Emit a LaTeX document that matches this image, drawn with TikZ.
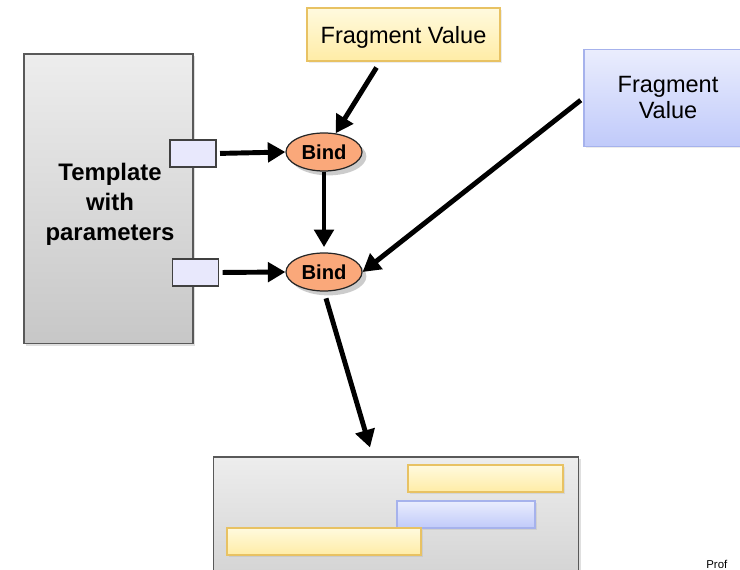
\documentclass[tikz,border=0pt]{standalone}
\usepackage{fontspec}
\setmainfont{Liberation Sans}
\usetikzlibrary{arrows.meta,shadows,shapes.geometric}
\definecolor{bindfill}{RGB}{250,168,122}
\definecolor{yeltop}{RGB}{255,250,222}
\definecolor{yelbot}{RGB}{255,236,166}
\definecolor{yeledge}{RGB}{232,194,99}
\definecolor{bluetop}{RGB}{234,237,253}
\definecolor{bluebot}{RGB}{192,202,250}
\definecolor{blueedge}{RGB}{166,178,236}
\definecolor{portfill}{RGB}{232,232,252}

\begin{document}
\begin{tikzpicture}[x=0.02cm,y=-0.02cm,
	graybox/.style={draw=black!65,line width=0.6pt,top color=black!7,bottom color=black!22,
		drop shadow={opacity=0.25,shadow xshift=1pt,shadow yshift=-1pt}},
	yelbox/.style={draw=yeledge,line width=0.6pt,top color=yeltop,bottom color=yelbot,
		drop shadow={opacity=0.15,shadow xshift=1pt,shadow yshift=-1pt}},
	bluebox/.style={draw=blueedge,line width=0.6pt,top color=bluetop,bottom color=bluebot,
		drop shadow={opacity=0.15,shadow xshift=1pt,shadow yshift=-1pt}},
	portbox/.style={draw=black!75,line width=0.6pt,fill=portfill,minimum width=0.92cm,minimum height=0.54cm,inner sep=0},
	bindnode/.style={ellipse,draw=black!85,line width=0.7pt,fill=bindfill,minimum width=1.52cm,minimum height=0.76cm,inner sep=0,
		font=\fontsize{11.5}{13}\selectfont\bfseries,
		drop shadow={opacity=0.4,shadow xshift=2.5pt,shadow yshift=-2.5pt}},
	bar/.style={minimum height=0.54cm,inner sep=0},
	arr/.style={line width=2.8pt,-{Triangle[length=10pt,width=11pt]}}]
	\useasboundingbox (0,0) rectangle (740,570);
	\clip (0,0) rectangle (740,570);

	\node[graybox,minimum width=3.38cm,minimum height=5.8cm] (tmpl) at (108.5,199) {};
	\node[align=center,font=\fontsize{13.6}{17}\selectfont\bfseries] (tmpltext) at (110,204) {Template\\with\\parameters};
	\node[portbox] (port1) at (193,153.5) {};
	\node[portbox] (port2) at (195.5,272.5) {};

	\node[yelbox,minimum width=3.86cm,minimum height=1.06cm,text depth=0pt,font=\fontsize{13.4}{16}\selectfont] (frag1) at (403.5,34.5) {Fragment Value};
	\node[bluebox,minimum width=3.36cm,minimum height=1.94cm,align=center,font=\fontsize{13.4}{14.8}\selectfont] (frag2) at (668,98) {Fragment\\Value};

	\node[bindnode] (bind1) at (324,152) {Bind};
	\node[bindnode] (bind2) at (324,272) {Bind};

	\node[graybox,minimum width=7.32cm,minimum height=3.6cm] (result) at (396,547) {};
	\node[yelbox,bar,minimum width=3.1cm] (res1) at (485.5,478.5) {};
	\node[bluebox,bar,minimum width=2.76cm] (res2) at (466,514.5) {};
	\node[yelbox,bar,minimum width=3.88cm] (res3) at (324,541.5) {};

	\node[anchor=south west,inner sep=0,font=\fontsize{6.5}{8}\selectfont] (prof) at (706,569) {Prof};

	\draw[arr] ([xshift=-0.54cm,yshift=-0.12cm]frag1.south) -- (bind1);
	\draw[arr,shorten <=2pt] (port1.east) -- (bind1.west);
	\draw[arr,shorten >=3pt] (bind1.south) -- (bind2.north);
	\draw[arr,shorten <=2pt] (frag2.west) -- (bind2.east);
	\draw[arr,shorten <=2pt] (port2.east) -- (bind2.west);
	\draw[arr,shorten <=4pt] (bind2.south) -- ([xshift=-0.52cm,yshift=0.18cm]result.north);
\end{tikzpicture}
\end{document}
